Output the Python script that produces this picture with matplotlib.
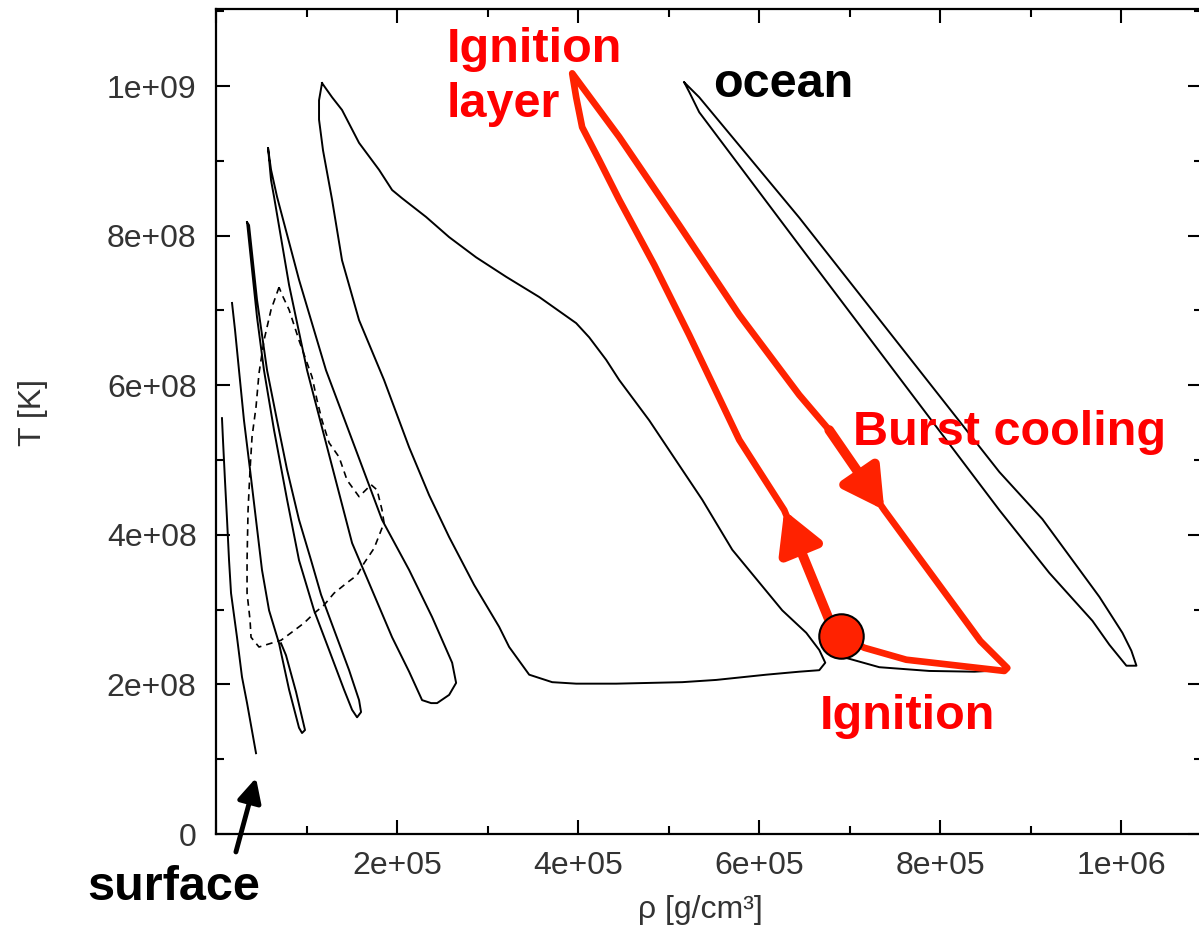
import matplotlib
matplotlib.use("Agg")
import matplotlib.pyplot as plt
from matplotlib.ticker import MultipleLocator, FuncFormatter
import numpy as np

plt.rcParams['font.family'] = ['Liberation Sans', 'DejaVu Sans']

# rho in units of 1e5 g/cm^3, T in units of 1e8 K
surf_rho = [0.066, 0.077, 0.099, 0.122, 0.144, 0.166, 0.232, 0.287, 0.343, 0.442]
surf_T = [5.56, 5.27, 4.73, 4.20, 3.66, 3.22, 2.63, 2.10, 1.75, 1.08]

b_rho = [0.177, 0.210, 0.254, 0.309, 0.376, 0.442, 0.508, 0.586, 0.696, 0.807, 0.917, 0.950,
         0.983, 0.884, 0.773, 0.718]
b_T = [7.10, 6.74, 6.20, 5.53, 4.87, 4.20, 3.53, 2.99, 2.55, 1.93, 1.42, 1.35,
       1.39, 1.90, 2.39, 2.55]

c_rho = [0.343, 0.387, 0.453, 0.530, 0.641, 0.785, 0.917, 1.083, 1.249, 1.414, 1.503, 1.558,
         1.602, 1.580, 1.470, 1.304, 1.160, 1.050, 0.917, 0.785, 0.674, 0.564, 0.453, 0.365, 0.343]
c_T = [8.18, 7.67, 6.91, 6.20, 5.40, 4.47, 3.66, 2.99, 2.46, 1.93, 1.66, 1.56,
       1.63, 1.79, 2.19, 2.73, 3.20, 3.66, 4.20, 4.87, 5.53, 6.20, 7.14, 8.14, 8.18]

d_rho = [0.575, 0.608, 0.641, 0.807, 1.006, 1.249, 1.503, 1.724, 1.945, 2.133, 2.276, 2.376,
         2.442, 2.575, 2.652, 2.608, 2.387, 2.133, 1.834, 1.525, 1.215, 0.917, 0.674, 0.608, 0.575]
d_T = [9.17, 8.74, 8.52, 7.34, 6.20, 5.07, 3.89, 3.26, 2.63, 2.17, 1.79, 1.75,
       1.75, 1.86, 2.02, 2.29, 2.90, 3.53, 4.20, 5.20, 6.20, 7.41, 8.52, 8.88, 9.17]

e_rho = [1.171, 1.138, 1.138, 1.182, 1.282, 1.392, 1.580, 1.856, 2.133, 2.354, 2.575, 2.851,
         3.127, 3.238, 3.459, 3.713, 3.978, 4.420, 5.149, 5.525, 6.077, 6.442, 6.663, 6.729,
         6.663, 6.519, 6.254, 5.702, 5.370, 5.116, 4.785, 4.453, 4.309, 4.122, 3.978, 3.569,
         3.204, 2.873, 2.575, 2.320, 2.055, 1.945, 1.801, 1.580, 1.392, 1.282, 1.171]
e_T = [10.04, 9.81, 9.55, 9.14, 8.48, 7.67, 6.87, 6.07, 5.17, 4.53, 3.97, 3.33,
       2.77, 2.50, 2.13, 2.03, 2.01, 2.01, 2.03, 2.06, 2.13, 2.17, 2.19, 2.29,
       2.46, 2.69, 2.99, 3.80, 4.47, 4.93, 5.53, 6.07, 6.34, 6.64, 6.83, 7.18,
       7.45, 7.71, 7.98, 8.25, 8.50, 8.61, 8.88, 9.24, 9.68, 9.85, 10.04]

ocean_rho = [5.171, 5.337, 6.442, 7.547, 8.652, 9.127, 9.757, 10.011, 10.110, 10.166,
             10.055, 9.867, 9.680, 9.204, 8.652, 7.547, 6.442, 5.337, 5.227, 5.171]
ocean_T = [10.05, 9.85, 8.24, 6.54, 4.84, 4.21, 3.17, 2.69, 2.45, 2.25,
           2.25, 2.53, 2.85, 3.49, 4.33, 6.10, 7.87, 9.65, 9.92, 10.05]

dash_rho = [0.696, 0.608, 0.530, 0.475, 0.442, 0.398, 0.376, 0.354, 0.343, 0.343, 0.376, 0.387,
            0.475, 0.608, 0.718, 0.829, 0.972, 1.083, 1.193, 1.304, 1.448, 1.558, 1.635, 1.746,
            1.856, 1.834, 1.779, 1.713, 1.580, 1.448, 1.359, 1.249, 1.171, 1.116, 1.061, 0.917,
            0.807, 0.729, 0.696]
dash_T = [7.31, 7.01, 6.60, 6.16, 5.71, 5.31, 4.87, 4.33, 3.66, 3.22, 2.86, 2.63,
          2.50, 2.55, 2.59, 2.69, 2.82, 2.95, 3.06, 3.22, 3.36, 3.46, 3.62, 3.82,
          4.16, 4.33, 4.60, 4.67, 4.51, 4.73, 5.04, 5.23, 5.53, 5.80, 6.11, 6.60,
          7.01, 7.21, 7.31]

ign_rho = [6.906, 6.773, 6.276, 5.779, 5.227, 4.840, 4.453, 4.232, 4.044, 3.978, 3.934,
           4.453, 5.116, 5.779, 6.442, 6.773, 7.381, 7.702, 8.442, 8.740, 8.707, 7.624, 7.160, 6.906]
ign_T = [2.65, 2.86, 4.33, 5.27, 6.67, 7.61, 8.48, 9.01, 9.45, 9.85, 10.17,
         9.32, 8.14, 6.94, 5.87, 5.40, 4.33, 3.80, 2.58, 2.22, 2.18, 2.33, 2.49, 2.65]
ign_black_rho = [6.972, 7.326, 7.878, 8.376, 8.685]
ign_black_T = [2.35, 2.23, 2.18, 2.17, 2.19]

# arrows on the ignition track: (tail, tip)
up_arrow = [(6.773, 2.86), (6.276, 4.33)]
down_arrow = [(6.773, 5.40), (7.381, 4.33)]
ignition_pt = (6.906, 2.65)
surface_arrow = [(0.22, -0.24), (0.442, 0.75)]

RHO, TEMP = 1e5, 1e8
red = '#ff2200'

W, H = 1199, 933
fig = plt.figure(figsize=(W / 100, H / 100), dpi=100)
ax = fig.add_axes([216 / W, 99 / H, 986 / W, 825 / H])

def draw(r, t, **kw):
    ax.plot(np.array(r) * RHO, np.array(t) * TEMP, **kw)

for r, t in [(surf_rho, surf_T), (b_rho, b_T), (c_rho, c_T), (d_rho, d_T),
             (e_rho, e_T), (ocean_rho, ocean_T), (ign_black_rho, ign_black_T)]:
    draw(r, t, color='black', lw=1.4)
draw(dash_rho, dash_T, color='black', lw=1.2, ls=(0, (4, 3)))

draw(ign_rho, ign_T, color=red, lw=4.8, solid_joinstyle='round', zorder=5)

for tail, tip in (up_arrow, down_arrow):
    ax.annotate('', xy=(tip[0] * RHO, tip[1] * TEMP), xytext=(tail[0] * RHO, tail[1] * TEMP),
                arrowprops=dict(arrowstyle='-|>,head_length=0.9,head_width=0.5',
                                color=red, lw=7, mutation_scale=27,
                                shrinkA=0, shrinkB=0), zorder=6)

ax.plot(ignition_pt[0] * RHO, ignition_pt[1] * TEMP, 'o', ms=32, mfc=red,
        mec='black', mew=1.5, zorder=7)

ax.annotate('', xy=(surface_arrow[1][0] * RHO, surface_arrow[1][1] * TEMP),
            xytext=(surface_arrow[0][0] * RHO, surface_arrow[0][1] * TEMP),
            arrowprops=dict(arrowstyle='-|>,head_length=0.9,head_width=0.45',
                            color='black', lw=3.5, mutation_scale=16,
                            shrinkA=0, shrinkB=0), annotation_clip=False)

ax.set_xlim(0, 10.89 * RHO)
ax.set_ylim(0, 11.03 * TEMP)
ax.xaxis.set_major_locator(MultipleLocator(2e5))
ax.xaxis.set_minor_locator(MultipleLocator(1e5))
ax.yaxis.set_major_locator(MultipleLocator(2e8))
ax.yaxis.set_minor_locator(MultipleLocator(1e8))

def sci_x(v, pos):
    return '' if v == 0 else f'{v:.0e}'

def sci_y(v, pos):
    return '0' if v == 0 else f'{v:.0e}'

ax.xaxis.set_major_formatter(FuncFormatter(sci_x))
ax.yaxis.set_major_formatter(FuncFormatter(sci_y))
ax.tick_params(which='both', direction='in', top=True, right=True, width=1.5,
               labelsize=23, labelcolor='#333333')
ax.tick_params(which='major', length=10)
ax.tick_params(which='minor', length=6)
ax.tick_params(axis='x', pad=12)
ax.tick_params(axis='y', pad=14)
for s in ax.spines.values():
    s.set_linewidth(1.6)

fig.text(700 / W, 1 - 910 / H, 'ρ [g/cm³]', fontsize=23, color='#333333',
         ha='center', va='center')
fig.text(33 / W, 1 - 412 / H, 'T [K]', fontsize=23, color='#333333',
         ha='center', va='center', rotation=90)

kw = dict(fontsize=35, fontweight='bold', ha='left', va='baseline')
fig.text(447 / W, 1 - 62 / H, 'Ignition', color='#ff0000', **kw)
fig.text(447 / W, 1 - 117 / H, 'layer', color='#ff0000', **kw)
fig.text(713 / W, 1 - 97 / H, 'ocean', color='black', **kw)
fig.text(853 / W, 1 - 445 / H, 'Burst cooling', color='#ff0000', **kw)
fig.text(820 / W, 1 - 729 / H, 'Ignition', color='#ff0000', **kw)
fig.text(87 / W, 1 - 900 / H, 'surface', color='black', **kw)

fig.savefig('out.png', dpi=100)
